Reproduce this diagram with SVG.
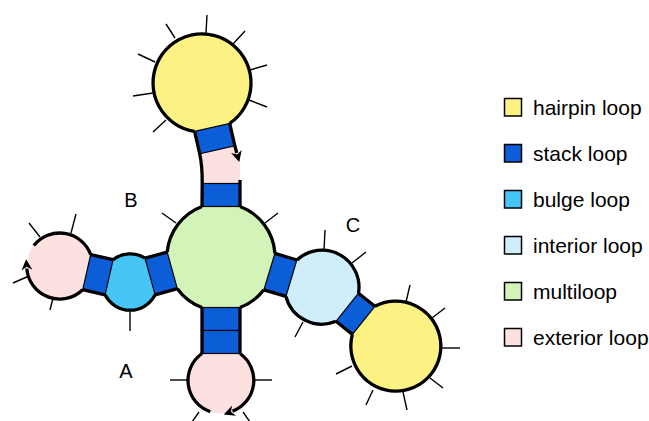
<svg xmlns="http://www.w3.org/2000/svg" width="649" height="421" viewBox="0 0 649 421">
<style>
.hp{fill:#fcf283}.st{fill:#0b5dd8;stroke:#000;stroke-width:1.2}.bu{fill:#45c6f6}.in{fill:#d0eefa}.ml{fill:#d3f4b9}.ex{fill:#fde0e0}
.bb{fill:none;stroke:#000;stroke-width:3.3;stroke-linecap:butt}
.sp{stroke:#000;stroke-width:1.4}
.lab{font-family:"Liberation Sans",Arial,sans-serif;font-size:20px;fill:#000}
.lgt{font-family:"Liberation Sans",Arial,sans-serif;font-size:21px;fill:#000}
.lg{stroke:#000;stroke-width:1.5}
</style>
<defs>
<marker id="arr" viewBox="0 0 10 10" markerUnits="userSpaceOnUse" markerWidth="12" markerHeight="11" refX="1.5" refY="5" orient="auto">
<path d="M0,0 L10,5 L0,10 L3,5 Z" fill="#000"/>
</marker>
</defs>
<g id="loops">
<g id="hairpin-top"><path class="hp" d="M194.6,131.4 L229.7,123.4 A49,49 0 1 0 194.6,131.4 Z"/></g>
<g id="exterior-top"><path class="ex" d="M199.7,153.8 L234.8,145.8 L240,163 L240,183.5 L202,183.5 Z"/></g>
<g id="multiloop"><path class="ml" d="M202,206.5 L240,206.5 A54,54 0 0 1 274.9,253.4 L263.9,289.8 A54,54 0 0 1 240,307.5 L202,307.5 A54,54 0 0 1 177.3,288.7 L167.2,252.1 A54,54 0 0 1 202,206.5 Z"/></g>
<g id="bulge"><path class="bu" d="M113.1,259.7 A28,28 0 0 1 145,258.2 L155.1,294.8 A28,28 0 0 1 105.1,294.8 Z"/></g>
<g id="exterior-left"><path class="ex" d="M90.7,254.6 A33,33 0 1 0 82.7,289.7 Z"/></g>
<g id="exterior-bottom"><path class="ex" d="M240,353.5 A33,33 0 1 1 202,353.5 Z"/></g>
<g id="interior"><path class="in" d="M296.9,260 A37,37 0 0 1 358.5,293.2 L336,321.3 A37,37 0 0 1 285.9,296.4 Z"/></g>
<g id="hairpin-right"><path class="hp" d="M374.9,306.3 A45,45 0 1 1 352.4,334.4 Z"/></g>
</g>
<g id="stacks">
<g id="stack-top-hp"><path class="st" d="M194.6,131.4 L229.7,123.4 L234.8,145.8 L199.7,153.8 Z"/></g>
<g id="stack-top"><rect class="st" x="202" y="183.5" width="38" height="23"/></g>
<g id="stack-bottom-1"><rect class="st" x="202" y="307.5" width="38" height="23"/></g>
<g id="stack-bottom-2"><rect class="st" x="202" y="330.5" width="38" height="23"/></g>
<g id="stack-left-1"><path class="st" d="M167.2,252.1 L177.3,288.7 L155.1,294.8 L145,258.2 Z"/></g>
<g id="stack-left-2"><path class="st" d="M113.1,259.7 L105.1,294.8 L82.7,289.7 L90.7,254.6 Z"/></g>
<g id="stack-right-1"><path class="st" d="M274.9,253.4 L263.9,289.8 L285.9,296.4 L296.9,260 Z"/></g>
<g id="stack-right-2"><path class="st" d="M358.5,293.2 L336,321.3 L352.4,334.4 L374.9,306.3 Z"/></g>
</g>
<g id="connectors">
<path class="bb" d="M229.7,123.4 A49,49 0 1 0 194.6,131.4"/>
<path class="bb" d="M194.6,131.4 L199.7,153.8 Q202.4,166 202.2,183.5 L202,206.5"/>
<path class="bb" d="M229.7,123.4 L234.8,145.8 L236.8,153" marker-end="url(#arr)"/>
<path class="bb" d="M240,180 L240,206.5"/>
<path class="bb" d="M240,206.5 A54,54 0 0 1 274.9,253.4 M263.9,289.8 A54,54 0 0 1 240,307.5 M202,307.5 A54,54 0 0 1 177.3,288.7 M167.2,252.1 A54,54 0 0 1 202,206.5"/>
<path class="bb" d="M202,307.5 L202,353.5 M240,307.5 L240,353.5"/>
<path class="bb" d="M202,353.5 A33,33 0 0 0 210.3,411.7"/>
<path class="bb" d="M240,353.5 A33,33 0 0 1 232.5,411.2" marker-end="url(#arr)"/>
<path class="bb" d="M167.2,252.1 L145,258.2 M177.3,288.7 L155.1,294.8"/>
<path class="bb" d="M113.1,259.7 A28,28 0 0 1 145,258.2 M155.1,294.8 A28,28 0 0 1 105.1,294.8"/>
<path class="bb" d="M113.1,259.7 L90.7,254.6 M105.1,294.8 L82.7,289.7"/>
<path class="bb" d="M90.7,254.6 A33,33 0 0 0 33.8,245.6"/>
<path class="bb" d="M82.7,289.7 A33,33 0 0 1 26.8,268.5" marker-end="url(#arr)"/>
<path class="bb" d="M274.9,253.4 L296.9,260 M263.9,289.8 L285.9,296.4"/>
<path class="bb" d="M296.9,260 A37,37 0 0 1 358.5,293.2 M336,321.3 A37,37 0 0 1 285.9,296.4"/>
<path class="bb" d="M358.5,293.2 L374.9,306.3 M336,321.3 L352.4,334.4"/>
<path class="bb" d="M374.9,306.3 A45,45 0 1 1 352.4,334.4"/>
</g>
<g id="spikes">
<line class="sp" x1="207" y1="15" x2="206" y2="33"/>
<line class="sp" x1="166" y1="24" x2="175" y2="38"/>
<line class="sp" x1="138" y1="54" x2="155" y2="62"/>
<line class="sp" x1="133" y1="96" x2="153" y2="93"/>
<line class="sp" x1="153" y1="132" x2="166" y2="120"/>
<line class="sp" x1="245" y1="31" x2="233" y2="44"/>
<line class="sp" x1="267" y1="65" x2="250" y2="70"/>
<line class="sp" x1="267" y1="107" x2="249" y2="100"/>
<line class="sp" x1="162" y1="213" x2="176" y2="223"/>
<line class="sp" x1="278" y1="213" x2="265" y2="223"/>
<line class="sp" x1="29" y1="223" x2="40" y2="237"/>
<line class="sp" x1="76" y1="214" x2="71" y2="233"/>
<line class="sp" x1="13" y1="283" x2="29" y2="276"/>
<line class="sp" x1="50" y1="310" x2="53" y2="298"/>
<line class="sp" x1="130" y1="331" x2="130" y2="310"/>
<line class="sp" x1="170" y1="380" x2="188" y2="380"/>
<line class="sp" x1="254" y1="380" x2="272" y2="380"/>
<line class="sp" x1="192" y1="422" x2="199" y2="412"/>
<line class="sp" x1="250" y1="422" x2="243" y2="412"/>
<line class="sp" x1="325" y1="230" x2="324" y2="250"/>
<line class="sp" x1="366" y1="252" x2="352" y2="263"/>
<line class="sp" x1="295" y1="337" x2="303" y2="322"/>
<line class="sp" x1="410" y1="285" x2="406" y2="302"/>
<line class="sp" x1="445" y1="308" x2="432" y2="318"/>
<line class="sp" x1="460" y1="348" x2="441" y2="348"/>
<line class="sp" x1="443" y1="388" x2="430" y2="378"/>
<line class="sp" x1="407" y1="410" x2="403" y2="392"/>
<line class="sp" x1="366" y1="405" x2="373" y2="390"/>
<line class="sp" x1="336" y1="374" x2="352" y2="366"/>
</g>
<g id="labels">
<text class="lab" x="131" y="207" text-anchor="middle">B</text>
<text class="lab" x="126" y="378" text-anchor="middle">A</text>
<text class="lab" x="353" y="231.7" text-anchor="middle">C</text>
</g>
<g id="legend">
<rect class="lg hp" x="504.5" y="98.5" width="17" height="17.5"/>
<text class="lgt" x="533" y="115">hairpin loop</text>
<rect class="lg st" x="504.5" y="144.5" width="17" height="17.5" style="stroke-width:1.5"/>
<text class="lgt" x="533" y="161">stack loop</text>
<rect class="lg bu" x="504.5" y="190.5" width="17" height="17.5"/>
<text class="lgt" x="533" y="207">bulge loop</text>
<rect class="lg in" x="504.5" y="236.5" width="17" height="17.5"/>
<text class="lgt" x="533" y="253">interior loop</text>
<rect class="lg ml" x="504.5" y="282.5" width="17" height="17.5"/>
<text class="lgt" x="533" y="299">multiloop</text>
<rect class="lg ex" x="504.5" y="328.5" width="17" height="17.5"/>
<text class="lgt" x="533" y="345">exterior loop</text>
</g>
</svg>
